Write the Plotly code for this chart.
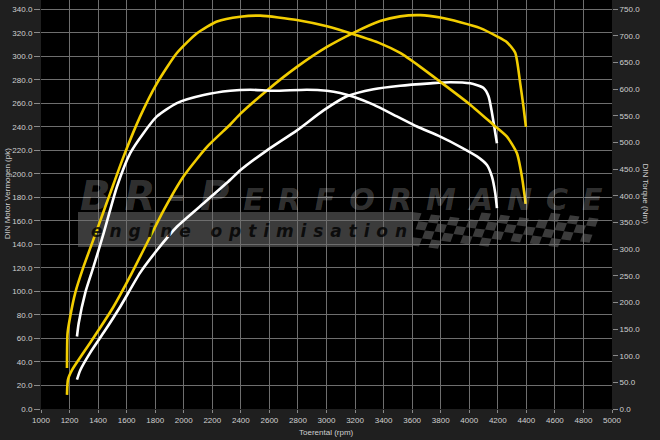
import plotly.graph_objects as go

# ---------------- data ----------------
rpm_torque_tuned = [1182, 1186, 1205, 1240, 1298, 1392, 1485, 1579, 1695, 1812, 1952, 2093, 2233,
                    2396, 2536, 2793, 3003, 3189, 3376, 3516, 3657, 3797, 4007, 4170, 4264, 4334,
                    4369, 4395]
torque_tuned = [77, 142, 174, 218, 267, 336, 405, 474, 549, 611, 668, 705, 727,
                736, 738, 730, 718, 703, 686, 668, 642, 614, 571, 533, 511, 480,
                436, 385]

rpm_power_tuned = [1182, 1189, 1217, 1298, 1392, 1508, 1625, 1742, 1859, 1999, 2163, 2326, 2396,
                   2583, 2793, 3003, 3189, 3376, 3516, 3657, 3797, 3937, 4077, 4194, 4264, 4322,
                   4357, 4380, 4397]
power_tuned = [12, 25, 33, 48, 65, 87, 113, 141, 169, 198, 223, 242, 251,
               271, 291, 308, 320, 330, 334, 335, 333, 329, 324, 317, 312, 303,
               277, 257, 240]

rpm_torque_stock = [1252, 1264, 1310, 1368, 1439, 1532, 1625, 1719, 1812, 1952, 2139, 2326, 2466,
                    2629, 2863, 3003, 3096, 3189, 3329, 3493, 3634, 3797, 3937, 4054, 4124, 4159,
                    4182, 4194]
torque_stock = [136, 161, 218, 267, 330, 417, 480, 518, 549, 574, 589, 597, 599,
                597, 599, 597, 593, 586, 571, 549, 530, 511, 492, 474, 458, 436,
                405, 377]

rpm_power_stock = [1252, 1275, 1345, 1439, 1555, 1695, 1812, 1952, 2139, 2326, 2396, 2583, 2793,
                   2979, 3143, 3329, 3516, 3727, 3867, 4007, 4100, 4135, 4159, 4182, 4194]
power_stock = [25, 33, 48, 65, 87, 116, 135, 155, 175, 195, 203, 220, 237,
               254, 266, 272, 275, 277, 278, 277, 273, 266, 252, 235, 226]

x_ticks = list(range(1000, 5001, 200))
left_ticks = list(range(0, 341, 20))
right_ticks = list(range(0, 751, 50))

x_title = "Toerental (rpm)"
left_title = "DIN Motor Vermogen (pk)"
right_title = "DIN Torque (Nm)"

# ---------------- styling ----------------
W, H = 660, 440
ML, MR, MT, MB = 41, 48, 0, 31
PW, PH = W - ML - MR, H - MT - MB
YELLOW = "#f2cd00"
WHITE = "#ffffff"
TICK_COLOR = "#cfcfcf"
FONT = "Liberation Sans, Arial, sans-serif"


def px(xp):
    return (xp - ML) / PW


def py(yp):
    return (H - MB - yp) / PH


fig = go.Figure()

line_kw = dict(shape="spline", smoothing=0.6, width=2.6)
fig.add_trace(go.Scatter(x=rpm_power_stock, y=power_stock, mode="lines",
                         line=dict(color=WHITE, **line_kw), yaxis="y", name="Vermogen standaard"))
fig.add_trace(go.Scatter(x=rpm_power_tuned, y=power_tuned, mode="lines",
                         line=dict(color=YELLOW, **line_kw), yaxis="y", name="Vermogen getuned"))
fig.add_trace(go.Scatter(x=rpm_torque_stock, y=torque_stock, mode="lines",
                         line=dict(color=WHITE, **line_kw), yaxis="y2", name="Koppel standaard"))
fig.add_trace(go.Scatter(x=rpm_torque_tuned, y=torque_tuned, mode="lines",
                         line=dict(color=YELLOW, **line_kw), yaxis="y2", name="Koppel getuned"))

# ---------------- watermark logo (decoration) ----------------
shapes = []
shapes.append(dict(type="rect", xref="paper", yref="paper", layer="below",
                   x0=px(78), x1=px(413), y0=py(247), y1=py(212),
                   fillcolor="#3b3b3b", line=dict(width=0)))
# checkered flag
path = ""
for i in range(-6, 30):
    for j in range(-6, 12):
        if (i + j) % 2:
            continue
        ox = 412 + i * 9.5 - j * 3.0
        oy = 212 + j * 8.0 + i * 1.2
        pts = [(ox, oy), (ox + 9.5, oy + 1.2), (ox + 9.5 - 3.0, oy + 1.2 + 8.0), (ox - 3.0, oy + 8.0)]
        if all(408 <= a <= 602 and 212 <= b <= 249 for a, b in pts):
            path += "M{:.4f},{:.4f}".format(px(pts[0][0]), py(pts[0][1]))
            for a, b in pts[1:]:
                path += "L{:.4f},{:.4f}".format(px(a), py(b))
            path += "Z"
shapes.append(dict(type="path", xref="paper", yref="paper", layer="below", path=path,
                   fillcolor="#3b3b3b", line=dict(width=0)))

annotations = [
    dict(text='<span style="font-size:40px;letter-spacing:14px">BR-P</span>'
              '<span style="font-size:30px;letter-spacing:14px">ERFORMANCE</span>',
         xref="paper", yref="paper", x=px(348), y=py(196), xanchor="center", yanchor="middle",
         showarrow=False,
         font=dict(family="DejaVu Sans", size=30, color="rgba(255,255,255,0.21)",
                   weight="bold", style="italic")),
    dict(text='<span style="letter-spacing:6.9px">engine optimisation</span>',
         xref="paper", yref="paper", x=px(89), y=py(231), xanchor="left", yanchor="middle",
         showarrow=False,
         font=dict(family="DejaVu Sans", size=17, color="rgba(0,0,0,0.8)",
                   weight="bold", style="italic")),
    dict(text=x_title, xref="paper", yref="paper", x=0.5, y=py(432.5), xanchor="center",
         yanchor="middle", showarrow=False, font=dict(family=FONT, size=8, color=TICK_COLOR)),
    dict(text=left_title, xref="paper", yref="paper", x=px(8.3), y=py(194), xanchor="center",
         yanchor="middle", textangle=-90, showarrow=False,
         font=dict(family=FONT, size=8, color=TICK_COLOR)),
    dict(text=right_title, xref="paper", yref="paper", x=px(644.5), y=py(194), xanchor="center",
         yanchor="middle", textangle=90, showarrow=False,
         font=dict(family=FONT, size=8, color=TICK_COLOR)),
]

grid = "#6e6e6e"
axis_common = dict(zeroline=False, ticks="outside", tickcolor="#8a8a8a", showline=False,
                   automargin=False, tickfont=dict(family=FONT, size=8, color=TICK_COLOR))
fig.update_layout(
    width=W, height=H,
    autosize=False,
    margin=dict(l=ML, r=MR, t=MT, b=MB, pad=0, autoexpand=False),
    paper_bgcolor="#1f1f1f",
    plot_bgcolor="#000000",
    showlegend=False,
    hovermode=False,
    shapes=shapes,
    annotations=annotations,
    font=dict(family=FONT, size=8, color=TICK_COLOR),
    xaxis=dict(range=[1000, 5000], tickvals=x_ticks, ticktext=[str(v) for v in x_ticks],
               showgrid=True, gridcolor=grid, gridwidth=1, ticklen=3, **axis_common),
    yaxis=dict(range=[0, 347.9], tickvals=left_ticks,
               ticktext=["{:.1f}".format(v) for v in left_ticks],
               showgrid=True, gridcolor=grid, gridwidth=1, ticklen=6, **axis_common),
    yaxis2=dict(range=[0, 767.4], tickvals=right_ticks,
                ticktext=["{:.1f}".format(v) for v in right_ticks],
                overlaying="y", side="right", showgrid=False, ticklen=5, **axis_common),
)

fig.write_html("out.html",
               config={"displayModeBar": False, "staticPlot": True},
               post_script="document.body.style.margin='0';document.body.style.padding='0';"
                           "document.body.style.background='#1f1f1f';")
